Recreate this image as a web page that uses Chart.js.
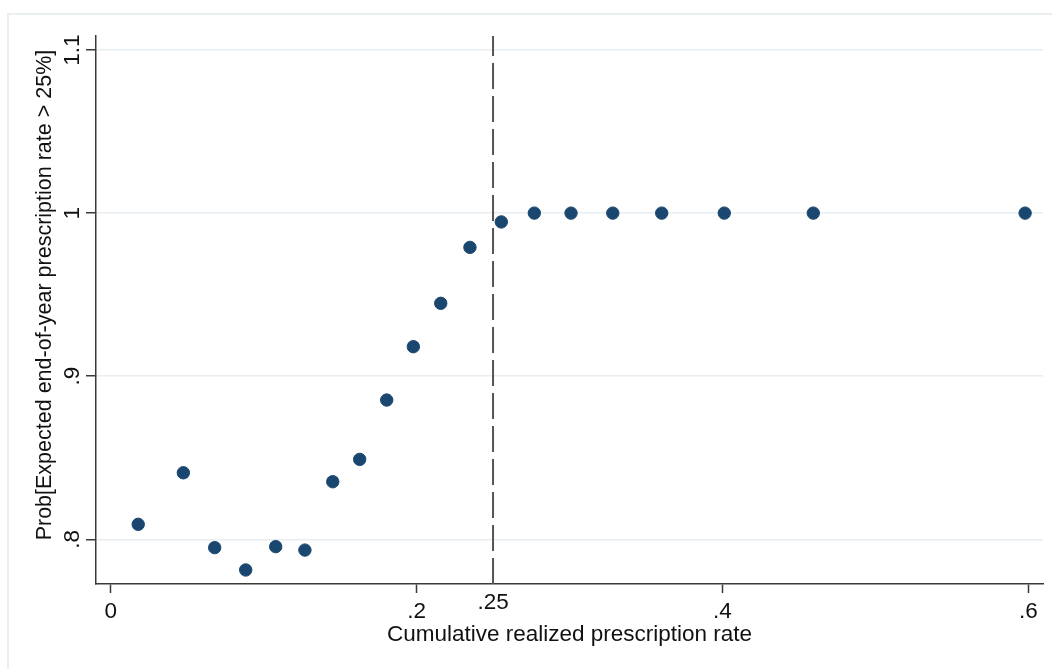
<!DOCTYPE html>
<html>
<head>
<meta charset="utf-8">
<script src="https://cdn.jsdelivr.net/npm/chart.js@4/dist/chart.umd.min.js"></script>
<style>
  html, body { margin: 0; padding: 0; background: #ffffff; }
  #wrap { position: relative; width: 1052px; height: 669px; overflow: hidden; }
  #frame { position: absolute; left: 7px; top: 13px; width: 1100px; height: 700px;
           border-left: 2px solid #e9eff1; border-top: 2px solid #e9eff1; box-sizing: border-box; }
  canvas { position: absolute; left: 0; top: 0; }
</style>
</head>
<body>
<div id="wrap">
  <div id="frame"></div>
  <canvas id="chart" width="1052" height="669"></canvas>
</div>
<script>
// Binned cumulative realized prescription rate (x) and probability (y)
const rateBins = [0.018, 0.0475, 0.068, 0.0883, 0.1079, 0.127, 0.1452, 0.1628, 0.1805, 0.1979,
                  0.2158, 0.2349, 0.2554, 0.277, 0.301, 0.3283, 0.3603, 0.4012, 0.4594, 0.5979];
const probAbove = [0.8092, 0.8408, 0.7949, 0.7812, 0.7955, 0.7934, 0.8353, 0.849, 0.8854, 0.9181,
                   0.9447, 0.979, 0.9946, 1.0, 1.0, 1.0, 1.0, 1.0, 1.0, 1.0];

// Threshold and axis ticks
const threshold = 0.25;
const xTicks = [0, 0.2, 0.25, 0.4, 0.6];
const yTicks = [0.8, 0.9, 1.0, 1.1];
const xRange = [-0.0096, 0.6096];
const yRange = [0.7726, 1.1086];

const xTitle = 'Cumulative realized prescription rate';
const yTitle = 'Prob[Expected end-of-year prescription rate > 25%]';

const FONT = '"Liberation Sans", Arial, Helvetica, sans-serif';
const AXIS = '#3a3a3a';
const GRID = '#e8eef1';
const MARKER = '#1a476f';

// Stata-style labels: drop the leading zero (.2, .25, .9)
function fmt(v) {
  const r = Math.round(v * 1000) / 1000;
  if (r === 0) return '0';
  return String(r).replace(/^0\./, '.');
}

const points = rateBins.map((x, i) => ({ x: x, y: probAbove[i] }));

new Chart(document.getElementById('chart'), {
  data: {
    datasets: [
      {
        type: 'scatter',
        data: points,
        backgroundColor: MARKER,
        borderColor: MARKER,
        borderWidth: 1,
        pointRadius: 6.2,
        pointHoverRadius: 6.2,
        order: 0
      },
      {
        type: 'line',
        data: [{ x: threshold, y: yRange[0] }, { x: threshold, y: yRange[1] }],
        borderColor: '#555555',
        borderWidth: 2,
        borderDash: [26, 7],
        pointRadius: 0,
        fill: false,
        order: 1
      }
    ]
  },
  options: {
    responsive: false,
    animation: false,
    devicePixelRatio: 1,
    layout: { padding: { left: 0, top: 36, right: 9, bottom: 0 } },
    plugins: { legend: { display: false }, tooltip: { enabled: false } },
    scales: {
      x: {
        type: 'linear',
        position: 'bottom',
        min: xRange[0],
        max: xRange[1],
        afterBuildTicks: (s) => { s.ticks = xTicks.map(v => ({ value: v })); },
        afterFit: (s) => { s.height = 85; },
        ticks: {
          maxRotation: 0,
          minRotation: 0,
          padding: 5,
          color: '#111',
          callback: (v) => fmt(v),
          font: (ctx) => ({
            family: FONT,
            size: 22.5,
            lineHeight: (ctx.tick && Math.abs(ctx.tick.value - threshold) < 1e-9) ? 0.46 : 1.2
          })
        },
        grid: {
          drawOnChartArea: false,
          drawTicks: true,
          tickLength: 9,
          tickWidth: 1.5,
          tickColor: (ctx) => (ctx.tick && Math.abs(ctx.tick.value - threshold) < 1e-9) ? 'rgba(0,0,0,0)' : AXIS
        },
        border: { display: true, color: AXIS, width: 1.5 },
        title: {
          display: true,
          text: xTitle,
          color: '#111',
          font: { family: FONT, size: 22.5 },
          padding: { top: 0, bottom: 21 }
        }
      },
      y: {
        type: 'linear',
        position: 'left',
        min: yRange[0],
        max: yRange[1],
        afterBuildTicks: (s) => { s.ticks = yTicks.map(v => ({ value: v })); },
        afterFit: (s) => { s.width = 96; },
        ticks: {
          minRotation: 90,
          maxRotation: 90,
          crossAlign: 'center',
          padding: -2,
          color: '#111',
          callback: (v) => fmt(v),
          font: { family: FONT, size: 22.5 }
        },
        grid: {
          drawOnChartArea: true,
          color: GRID,
          lineWidth: 1.5,
          drawTicks: true,
          tickLength: 10,
          tickWidth: 1.5,
          tickColor: AXIS
        },
        border: { display: true, color: AXIS, width: 1.5 },
        title: {
          display: true,
          text: '     ' + yTitle,
          color: '#111',
          font: { family: FONT, size: 21.5 },
          padding: { top: 32.5, bottom: 0 }
        }
      }
    }
  }
});
</script>
</body>
</html>
